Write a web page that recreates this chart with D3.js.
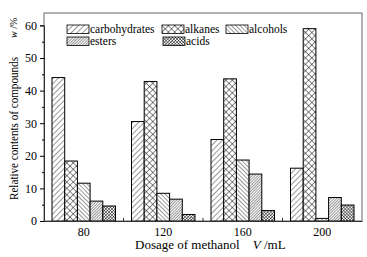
<!DOCTYPE html>
<html>
<head>
<meta charset="utf-8">
<script src="https://cdn.jsdelivr.net/npm/d3@7"></script>
<style>
  body { margin: 0; background: #fff; }
  text { font-family: "Liberation Serif", "Times New Roman", serif; }
</style>
</head>
<body>
<div id="chart"></div>
<script>
// data
var dosages = ["80", "120", "160", "200"];
var compounds = ["carbohydrates", "alkanes", "alcohols", "esters", "acids"];
var carbohydrates = [44.0, 30.5, 25.0, 16.2];
var alkanes = [18.4, 42.8, 43.6, 59.0];
var alcohols = [11.6, 8.5, 18.7, 0.8];
var esters = [6.1, 6.7, 14.4, 7.2];
var acids = [4.6, 2.0, 3.2, 4.9];
var yTicks = [0, 10, 20, 30, 40, 50, 60];

var seriesVals = [carbohydrates, alkanes, alcohols, esters, acids];

var width = 367, height = 257;
var margin = {top: 13, right: 5, bottom: 36, left: 44};

var svg = d3.select("#chart")
  .append("svg")
    .attr("width", width)
    .attr("height", height);

// hatch patterns
var defs = svg.append("defs");
function hatch(id, gap, angle, sw, cross) {
  var p = defs.append("pattern")
    .attr("id", id)
    .attr("patternUnits", "userSpaceOnUse")
    .attr("width", gap).attr("height", gap)
    .attr("patternTransform", "rotate(" + angle + ")");
  p.append("rect").attr("width", gap).attr("height", gap).attr("fill", "#fff");
  p.append("line").attr("x1", 0).attr("y1", 0).attr("x2", 0).attr("y2", gap)
    .attr("stroke", "#000").attr("stroke-width", sw);
  if (cross) {
    p.append("line").attr("x1", 0).attr("y1", 0).attr("x2", gap).attr("y2", 0)
      .attr("stroke", "#000").attr("stroke-width", sw);
  }
}
hatch("p0", 4, 45, 0.8, false);
hatch("p1", 4.5, 45, 0.9, true);
hatch("p2", 3, -45, 0.8, false);
hatch("p3", 2, 45, 0.8, false);
hatch("p4", 2.2, 45, 0.9, true);

var x = d3.scaleBand()
  .domain(dosages)
  .range([margin.left, width - margin.right]);

var xs = d3.scaleBand()
  .domain(compounds)
  .range([8, x.bandwidth() - 8]);

var y = d3.scaleLinear()
  .domain([0, 60])
  .range([221, 25.4]);

// frame
svg.append("rect")
  .attr("x", margin.left).attr("y", margin.top)
  .attr("width", width - margin.right - margin.left)
  .attr("height", y(0) - margin.top)
  .attr("fill", "none").attr("stroke", "#666").attr("stroke-width", 1);

// bars
compounds.forEach(function(c, i) {
  svg.append("g").selectAll("rect")
    .data(seriesVals[i])
    .enter()
    .append("rect")
      .attr("x", function(d, j) { return x(dosages[j]) + xs(c); })
      .attr("y", function(d) { return y(d); })
      .attr("width", xs.bandwidth())
      .attr("height", function(d) { return y(0) - y(d); })
      .attr("fill", "url(#p" + i + ")")
      .attr("stroke", "#000")
      .attr("stroke-width", 1);
});

// y axis
var yAxis = svg.append("g")
  .attr("transform", "translate(" + margin.left + ",0)")
  .call(d3.axisLeft(y).tickValues(yTicks).tickSize(4).tickPadding(3));
yAxis.select(".domain").attr("stroke", "#333");
yAxis.selectAll("text").attr("font-size", 12).attr("font-family", "Liberation Serif");
svg.append("g")
  .attr("transform", "translate(" + margin.left + ",0)")
  .call(d3.axisLeft(y).tickValues([5, 15, 25, 35, 45, 55]).tickSize(2).tickFormat(""))
  .select(".domain").remove();

// x axis: labels at group centres, small ticks between groups
var xAxis = svg.append("g")
  .attr("transform", "translate(0," + y(0) + ")")
  .call(d3.axisBottom(x).tickSize(0).tickPadding(6));
xAxis.select(".domain").attr("stroke", "#333");
xAxis.selectAll("text").attr("font-size", 12).attr("font-family", "Liberation Serif");
svg.append("g").selectAll("line")
  .data(dosages.slice(1))
  .enter()
  .append("line")
    .attr("x1", function(d) { return x(d); })
    .attr("x2", function(d) { return x(d); })
    .attr("y1", y(0))
    .attr("y2", y(0) - 3)
    .attr("stroke", "#333");

// axis titles
var xt = svg.append("text")
  .attr("x", 135).attr("y", 249)
  .attr("font-size", 13);
xt.append("tspan").text("Dosage of methanol");
xt.append("tspan").attr("dx", 13).attr("font-style", "italic").text("V");
xt.append("tspan").text(" /mL");

svg.append("text")
  .attr("transform", "translate(18,200) rotate(-90)")
  .attr("font-family", "Liberation Sans")
  .attr("font-size", 13)
  .attr("textLength", 143)
  .attr("lengthAdjust", "spacingAndGlyphs")
  .text("Relative contents of compounds");
var wt = svg.append("text")
  .attr("transform", "translate(17,38) rotate(-90)")
  .attr("font-size", 10);
wt.append("tspan").attr("font-style", "italic").text("w");
wt.append("tspan").text(" /%");

// legend
var legPos = [[67, 25], [162, 25], [226, 25], [67, 37], [163, 37]];
compounds.forEach(function(c, i) {
  var g = svg.append("g").attr("transform", "translate(" + legPos[i][0] + "," + legPos[i][1] + ")");
  g.append("rect")
    .attr("width", 22).attr("height", 8.5)
    .attr("fill", "url(#p" + i + ")")
    .attr("stroke", "#000").attr("stroke-width", 0.8);
  g.append("text")
    .attr("x", 23).attr("y", 7.5)
    .attr("font-size", 11.5)
    .text(c);
});
</script>
</body>
</html>
